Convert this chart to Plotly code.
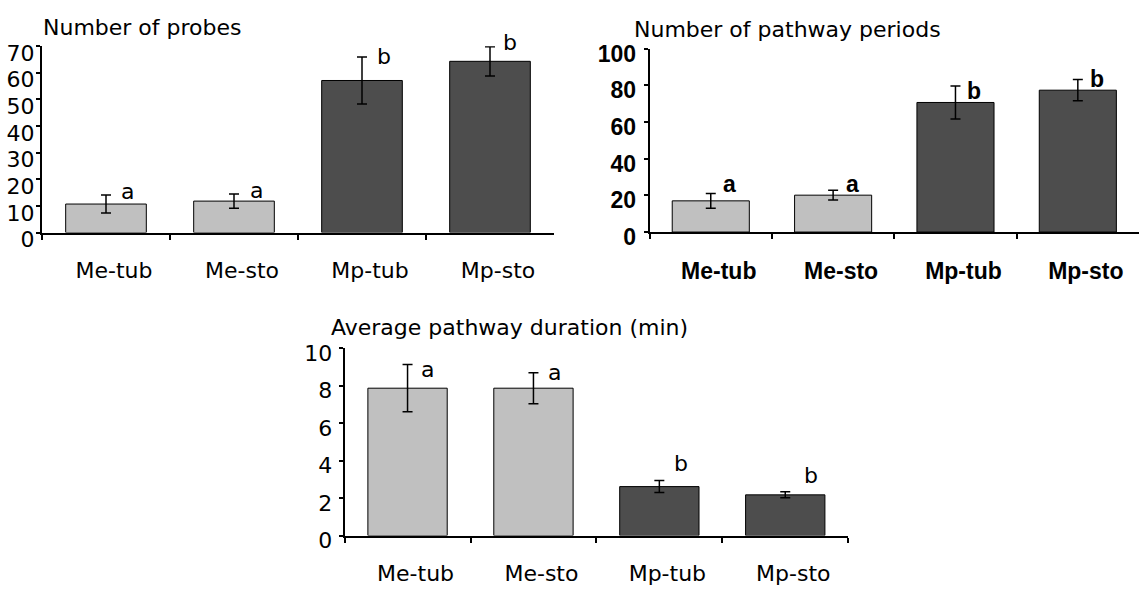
import plotly.graph_objects as go

# Treatment groups (aphid species on tubers / stolons)
groups = ["Me-tub", "Me-sto", "Mp-tub", "Mp-sto"]

# Number of probes (mean and SE)
probes = [10.7, 11.8, 57.1, 64.3]
probes_se = [3.4, 2.7, 8.8, 5.5]
probes_letters = ["a", "a", "b", "b"]
probes_ticks = [0, 10, 20, 30, 40, 50, 60, 70]

# Number of pathway periods (mean and SE)
periods = [17.0, 20.1, 70.6, 77.3]
periods_se = [4.0, 2.7, 9.0, 5.8]
periods_letters = ["a", "a", "b", "b"]
periods_ticks = [0, 20, 40, 60, 80, 100]

# Average pathway duration in minutes (mean and SE)
duration = [7.86, 7.86, 2.61, 2.17]
duration_se = [1.26, 0.83, 0.32, 0.16]
duration_letters = ["a", "a", "b", "b"]
duration_ticks = [0, 2, 4, 6, 8, 10]

W, H = 1139, 601
LIGHT = "#c0c0c0"
DARK = "#4d4d4d"
REG = "DejaVu Sans, Arial, sans-serif"
BOLD = "Liberation Sans, Arial, sans-serif"


def px_x(p):
    return p / W


def px_y(p):
    return 1 - p / H


panels = [
    dict(
        title="Number of probes", values=probes, se=probes_se,
        letters=probes_letters, ticks=probes_ticks,
        xdom=(42, 554), ydom=(235.5, 40), title_xy=(41, 20.7),
        font=dict(family=REG, size=22, color="black"),
        ystand=-3, yshift_lab=7,
        let_dx=[21, 22, 22, 20], let_dy=[3, 3, 1, 4],
    ),
    dict(
        title="Number of pathway periods", values=periods, se=periods_se,
        letters=periods_letters, ticks=periods_ticks,
        xdom=(649.6, 1139), ydom=(235, 42.5), title_xy=(631.5, 22.4),
        font=dict(family=BOLD, size=23, color="black", weight="bold"),
        ystand=3, yshift_lab=5,
        let_dx=[19, 19, 19, 19], let_dy=[10, 6, -5, 1],
    ),
    dict(
        title="Average pathway duration (min)", values=duration, se=duration_se,
        letters=duration_letters, ticks=duration_ticks,
        xdom=(344.6, 848.2), ydom=(553.3, 356.7), title_xy=(329, 335),
        font=dict(family=REG, size=22, color="black"),
        ystand=2, yshift_lab=5,
        let_dx=[20, 21, 22, 26], let_dy=[-5, 0, 17, 16],
    ),
]

fig = go.Figure()
layout = dict(
    width=W, height=H,
    margin=dict(l=0, r=0, t=0, b=0),
    paper_bgcolor="white", plot_bgcolor="white",
    showlegend=False, bargap=0.37,
    annotations=[],
)

for i, p in enumerate(panels, start=1):
    xa = "x" if i == 1 else f"x{i}"
    ya = "y" if i == 1 else f"y{i}"
    colors = [LIGHT if g.startswith("Me") else DARK for g in groups]
    fig.add_trace(go.Bar(
        x=groups, y=p["values"], xaxis=xa, yaxis=ya,
        marker=dict(color=colors, line=dict(color="black", width=1)),
        error_y=dict(type="data", array=p["se"], visible=True,
                     color="black", thickness=1.5, width=5),
        hoverinfo="x+y",
    ))

    xkey = "xaxis" if i == 1 else f"xaxis{i}"
    ykey = "yaxis" if i == 1 else f"yaxis{i}"
    layout[xkey] = dict(
        domain=[px_x(p["xdom"][0]), min(1.0, px_x(p["xdom"][1]))],
        anchor=ya, type="category", range=[-0.5, 3.5],
        tickson="boundaries", ticks="outside", ticklen=5, tickwidth=2,
        tickcolor="black", showline=True, linewidth=2, linecolor="black",
        showgrid=False, zeroline=False, tickfont=p["font"],
        ticklabelshift=8, ticklabelstandoff=17, fixedrange=True,
    )
    layout[ykey] = dict(
        domain=[px_y(p["ydom"][0]), px_y(p["ydom"][1])],
        anchor=xa, range=[0, p["ticks"][-1]], tickvals=p["ticks"],
        ticks="outside", ticklen=4, tickwidth=1.5, tickcolor="black",
        showline=True, linewidth=2, linecolor="black",
        showgrid=False, zeroline=False, tickfont=p["font"],
        ticklabelstandoff=p["ystand"], ticklabelshift=p["yshift_lab"],
        fixedrange=True,
    )

    # panel title
    layout["annotations"].append(dict(
        text=p["title"], xref="paper", yref="paper",
        x=px_x(p["title_xy"][0]), y=px_y(p["title_xy"][1]),
        xanchor="left", yanchor="middle", showarrow=False,
        font=dict(family=REG, size=22, color="black"),
    ))

    # significance letters next to each error bar
    for j, g in enumerate(groups):
        layout["annotations"].append(dict(
            text=p["letters"][j], xref=xa, yref=ya,
            x=g, y=p["values"][j] + p["se"][j],
            xanchor="center", yanchor="middle", showarrow=False,
            xshift=p["let_dx"][j], yshift=p["let_dy"][j],
            font=p["font"],
        ))

fig.update_layout(**layout)
fig.write_html("out.html")
